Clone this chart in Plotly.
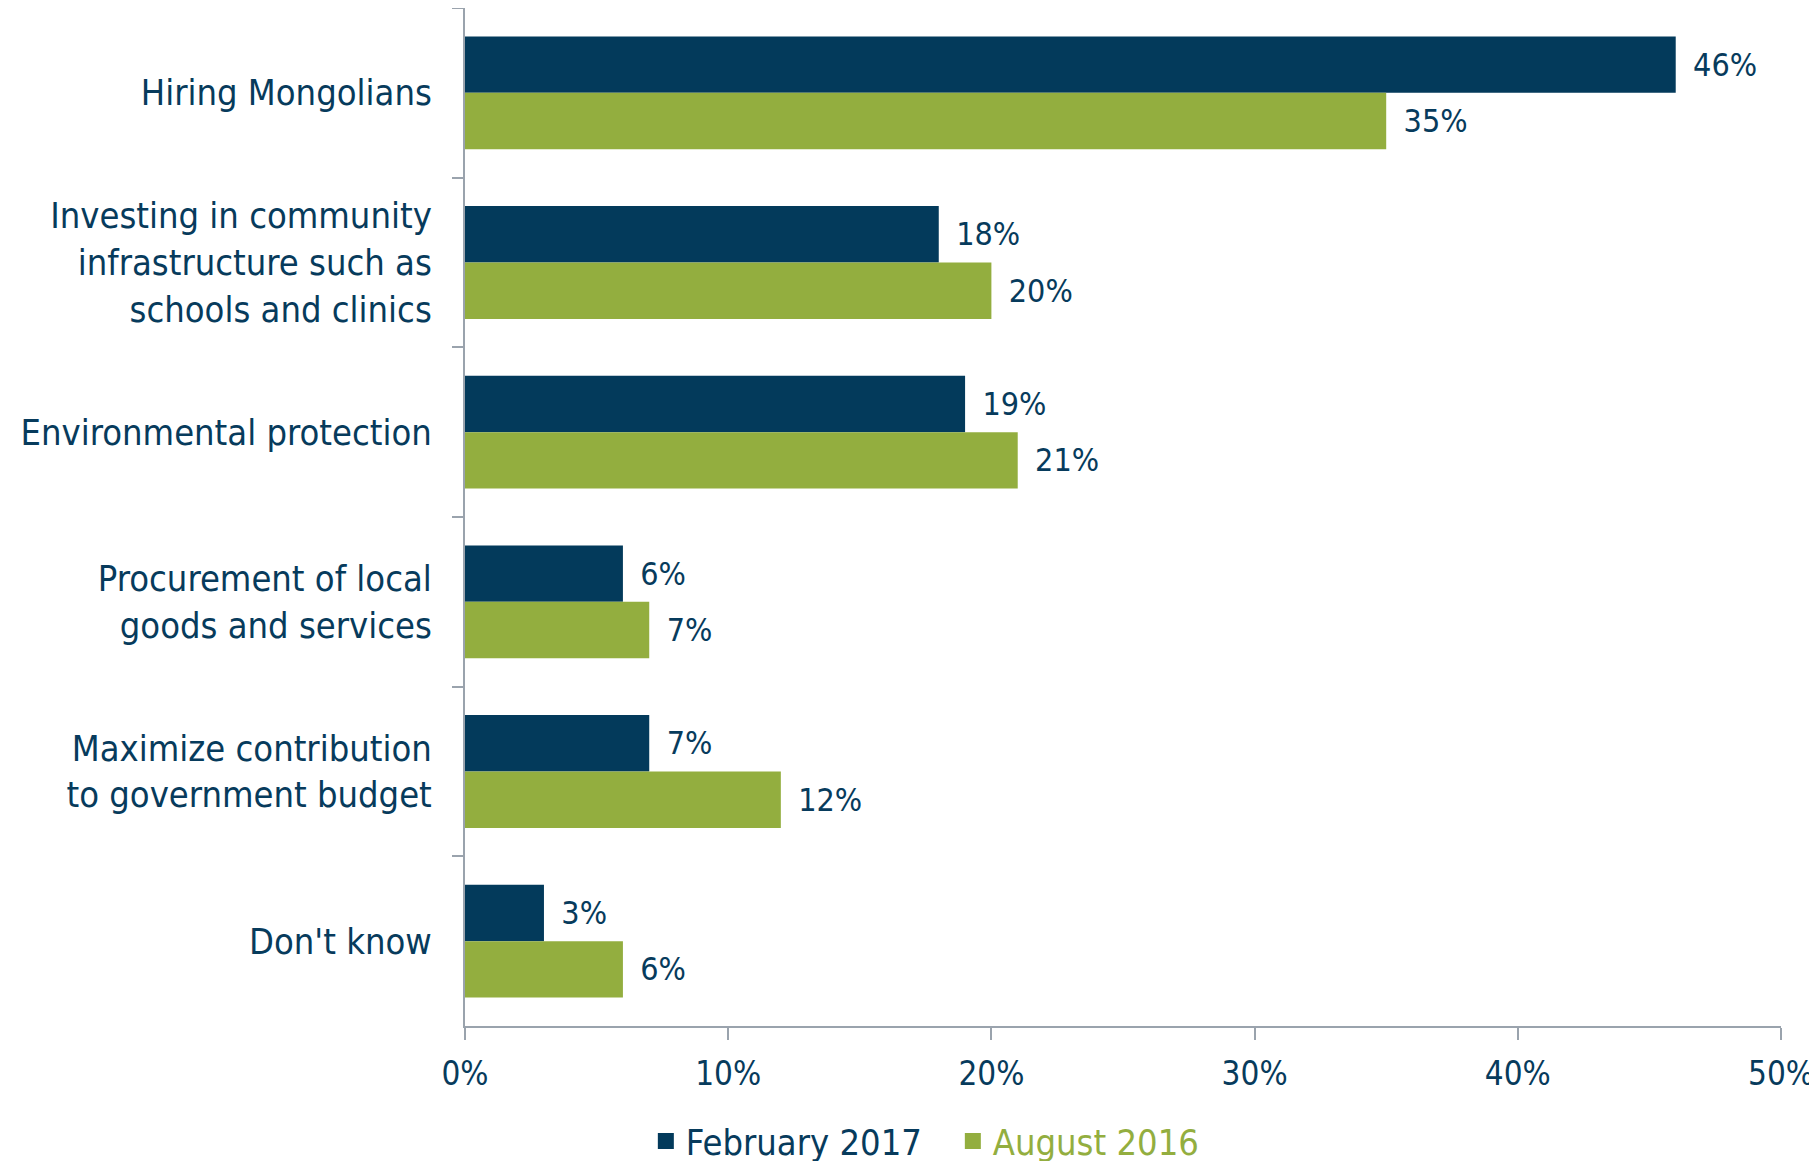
import plotly.graph_objects as go

categories = [
    "Hiring Mongolians",
    "Investing in community<br>infrastructure such as<br>schools and clinics",
    "Environmental protection",
    "Procurement of local<br>goods and services",
    "Maximize contribution<br>to government budget",
    "Don't know",
]
feb_2017 = [46, 18, 19, 6, 7, 3]
aug_2016 = [35, 20, 21, 7, 12, 6]
x_ticks = [0, 10, 20, 30, 40, 50]
x_tick_labels = ["0%", "10%", "20%", "30%", "40%", "50%"]

NAVY = "#033a5b"
GREEN = "#93ae3f"
TEXT = "#073b5c"
AXIS = "#9aa3ad"
FONT = "DejaVu Sans Condensed, Liberation Sans Narrow, sans-serif"
PAD = "\u2002"

fig = go.Figure()
fig.add_trace(go.Bar(
    y=categories, x=feb_2017, orientation="h", name="February 2017",
    marker=dict(color=NAVY, line=dict(width=0)),
    text=[PAD + f"{v}%" for v in feb_2017], textposition="outside",
    textfont=dict(color=TEXT, size=32, family=FONT), cliponaxis=False,
    showlegend=False,
))
fig.add_trace(go.Bar(
    y=categories, x=aug_2016, orientation="h", name="August 2016",
    marker=dict(color=GREEN, line=dict(width=0)),
    text=[PAD + f"{v}%" for v in aug_2016], textposition="outside",
    textfont=dict(color=TEXT, size=32, family=FONT), cliponaxis=False,
    showlegend=False,
))
# legend entries
fig.add_trace(go.Scatter(
    x=[None], y=[None], mode="markers", name="February 2017",
    marker=dict(symbol="square", size=18, color=NAVY),
))
fig.add_trace(go.Scatter(
    x=[None], y=[None], mode="markers",
    name=f"<span style='color:{GREEN}'>August 2016</span>",
    marker=dict(symbol="square", size=18, color=GREEN),
))

fig.update_layout(
    width=1817, height=1161,
    margin=dict(l=457, r=44, t=0, b=143, autoexpand=False),
    paper_bgcolor="white", plot_bgcolor="white",
    barmode="group", bargap=0.335, bargroupgap=0,
    font=dict(family=FONT, color=TEXT, size=34),
    legend=dict(
        orientation="h", xref="container", yref="container",
        x=0.52, xanchor="center", y=0.024, yanchor="middle",
        font=dict(size=36, color=TEXT, family=FONT),
        traceorder="normal", entrywidth=262,
    ),
    xaxis=dict(
        range=[0, 50], tickvals=x_ticks, ticktext=x_tick_labels,
        showgrid=False, zeroline=False, automargin=False,
        showline=True, linecolor=AXIS, linewidth=2,
        ticks="outside", ticklen=12, tickcolor=AXIS, tickwidth=2,
        tickfont=dict(size=33, color=TEXT, family=FONT),
        ticklabelstandoff=5,
    ),
    yaxis=dict(
        autorange="reversed", type="category", automargin=False,
        showgrid=False, zeroline=False,
        showline=True, linecolor=AXIS, linewidth=2,
        ticks="outside", ticklen=11, tickcolor=AXIS, tickwidth=2,
        tickson="boundaries",
        tickfont=dict(size=36, color=TEXT, family=FONT),
        ticklabelstandoff=24,
    ),
)

fig.write_html("out.html")
